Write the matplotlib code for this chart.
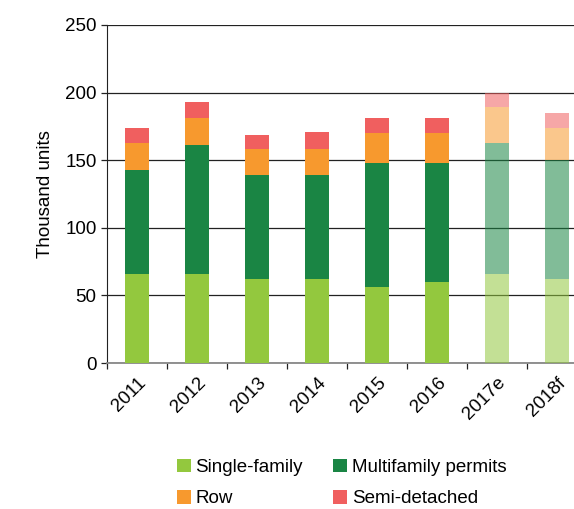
import numpy as np
import matplotlib
matplotlib.use('Agg')
import matplotlib.pyplot as plt
from matplotlib.patches import Patch

plt.rcParams['font.family'] = ['Liberation Sans', 'DejaVu Sans']

# Housing starts by type, thousand units (2017 estimate, 2018 forecast)
anos = ['2011', '2012', '2013', '2014', '2015', '2016', '2017e', '2018f']
unifamiliar = [66, 66, 62, 62, 56, 60, 66, 62]
multifamiliar = [77, 95, 77, 77, 92, 88, 97, 88]
geminadas = [20, 20, 19, 19, 22, 22, 26, 24]
semi_isoladas = [11, 12, 11, 13, 11, 11, 11, 11]
previsao = [False, False, False, False, False, False, True, True]

series = [
    ('Single-family', unifamiliar, '#93c83e'),
    ('Multifamily permits', multifamiliar, '#1a8544'),
    ('Row', geminadas, '#f7992e'),
    ('Semi-detached', semi_isoladas, '#f05f5f'),
]

fs = 13.5

fig = plt.figure(figsize=(5.74, 5.09), dpi=100)
ax = fig.add_axes([0.1864, 0.2868, 0.8362, 0.6641])

x = np.arange(len(anos))
base = np.zeros(len(anos))
for nome, valores, cor in series:
    valores = np.array(valores, dtype=float)
    for i in range(len(anos)):
        alfa = 0.55 if previsao[i] else 1.0
        ax.bar(x[i], valores[i], bottom=base[i], width=0.4, color=cor,
               alpha=alfa, linewidth=0, zorder=3)
    base += valores

ax.set_ylim(0, 250)
ax.set_xlim(-0.5, len(anos) - 0.5)
ax.set_yticks([0, 50, 100, 150, 200, 250])
ax.yaxis.grid(True, color='#222222', linewidth=0.9)
ax.set_axisbelow(True)

ax.set_xticks(x)
ax.set_xticklabels(anos, rotation=45, ha='right', rotation_mode='anchor', fontsize=fs)
ax.tick_params(axis='x', length=0, pad=8)
ax.set_xticks(np.arange(-0.5, len(anos)), minor=True)
ax.tick_params(axis='x', which='minor', length=4, width=0.9, color='#222222')
ax.tick_params(axis='y', length=4, width=0.9, labelsize=fs, color='#222222')

for lado in ['top', 'right']:
    ax.spines[lado].set_visible(False)
ax.spines['left'].set_color('#222222')
ax.spines['bottom'].set_color('#888888')
ax.spines['bottom'].set_linewidth(1.3)

ax.set_ylabel('Thousand units', fontsize=fs, labelpad=8)

# Legenda em duas colunas abaixo do gráfico
alcas = [Patch(facecolor=cor, label=nome) for nome, _, cor in series]
ordem = [alcas[0], alcas[2], alcas[1], alcas[3]]
fig.legend(handles=ordem, loc='center', bbox_to_anchor=(0.595, 0.051), ncol=2,
           frameon=False, fontsize=fs, handlelength=0.75, handleheight=0.75,
           handletextpad=0.25, columnspacing=1.6, labelspacing=0.75)

fig.savefig('out.png', dpi=100)
